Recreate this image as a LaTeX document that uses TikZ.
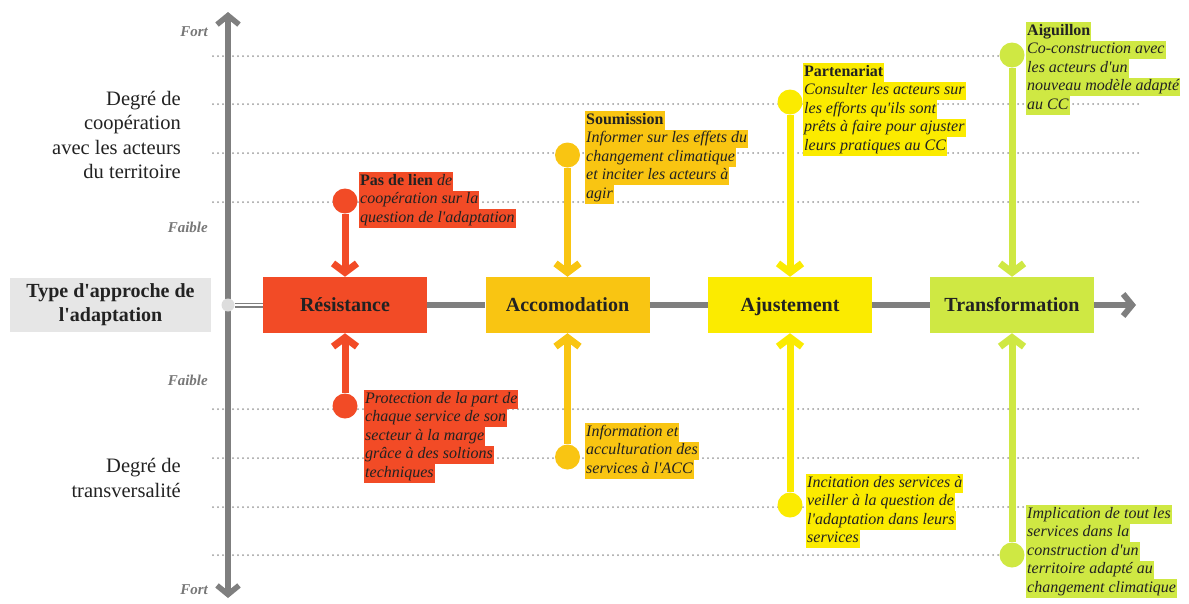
\documentclass[tikz,border=0pt]{standalone}
\usepackage{fontspec}
\setmainfont{Liberation Serif}[Ligatures=TeXOff]
\usetikzlibrary{arrows.meta}
\definecolor{cR}{HTML}{F24B26}
\definecolor{cA}{HTML}{F9C512}
\definecolor{cJ}{HTML}{FBEB00}
\definecolor{cT}{HTML}{CFE843}
\definecolor{axisc}{HTML}{7F7F7F}
\definecolor{dotc}{HTML}{9A9A9A}
\definecolor{ink}{HTML}{222222}
\definecolor{labc}{HTML}{777777}
\definecolor{typebg}{HTML}{E6E6E6}
\definecolor{hubc}{HTML}{DDDDDD}
\setlength\fboxsep{0pt}
\newcommand\hl[2]{\colorbox{#1}{\kern1pt\strut#2\kern1pt}}
\begin{document}
\begin{tikzpicture}[x=1pt,y=-1pt,
 approach/.style={draw=none, fill=#1, minimum width=164pt, minimum height=56pt, inner sep=0pt, text height=17pt, text depth=4pt, font=\fontsize{20}{24}\selectfont\bfseries, text=ink},
 knob/.style={circle, fill=#1, minimum size=25pt, inner sep=0pt},
 conn/.style={draw=#1, line width=7pt, -{Straight Barb[length=9pt,width=24pt]}},
 anno/.style={anchor=north west, inner sep=0pt, align=left, font=\fontsize{16}{18.5}\selectfont\itshape, text=ink},
 dotline/.style={draw=dotc, line width=2pt, line cap=round, dash pattern=on 0pt off 5pt},
 lvl/.style={anchor=east, inner sep=0pt, font=\fontsize{15}{18}\selectfont\bfseries\itshape, text=labc},
 axislab/.style={anchor=east, inner sep=0pt, align=right, font=\fontsize{20.5}{24.5}\selectfont, text=ink},
 axisln/.style={draw=axisc, line width=6pt},
]
\useasboundingbox (0,0) rectangle (1189,603);
% dotted grid
\foreach \yy in {56,104,153,202,409,458,507,555}
  \draw[dotline] (213,\yy) -- (1138,\yy);
% vertical axis
\coordinate (vtop) at (228,12);
\coordinate (vbot) at (228,598);
\draw[draw=axisc, line width=5.5pt, {Straight Barb[length=9pt,width=22pt]}-{Straight Barb[length=9pt,width=22pt]}] (vbot) -- (vtop);
% left labels
\node[lvl] (f1) at (208,32) {Fort};
\node[lvl] (f2) at (208,227) {Faible};
\node[lvl] (f3) at (208,380) {Faible};
\node[lvl] (f4) at (208,590) {Fort};
\node[axislab] (coop) at (181,135) {Degré de\\coopération\\avec les acteurs\\du territoire};
\node[axislab] (trans) at (181,478) {Degré de\\transversalité};
\node[fill=typebg, minimum width=201pt, minimum height=54pt, inner sep=0pt, align=center, font=\fontsize{20}{24}\selectfont\bfseries, text=ink] (type) at (110.5,305) {Type d'approche de\\l'adaptation};
\node[circle, fill=hubc, minimum size=13pt, inner sep=0pt] (hub) at (228,305) {};
% approach boxes
\node[approach=cR] (b1) at (345,305) {Résistance};
\node[approach=cA] (b2) at (567.5,305) {Accomodation};
\node[approach=cJ] (b3) at (790,305) {Ajustement};
\node[approach=cT] (b4) at (1012,305) {Transformation};
\coordinate (hend) at (1136,305);
\draw[draw=axisc, line width=1.8pt, double=white, double distance=1.4pt] (hub) -- (b1);
\draw[axisln] (b1) -- (b2);
\draw[axisln] (b2) -- (b3);
\draw[axisln] (b3) -- (b4);
\draw[axisln, -{Straight Barb[length=9pt,width=22pt]}] (b4) -- (hend);
% knobs
\node[knob=cR] (k1t) at (345,201) {};
\node[knob=cR] (k1b) at (345,406) {};
\node[knob=cA] (k2t) at (567.5,155) {};
\node[knob=cA] (k2b) at (567.5,457) {};
\node[knob=cJ] (k3t) at (790,102) {};
\node[knob=cJ] (k3b) at (790,505) {};
\node[knob=cT] (k4t) at (1012,55) {};
\node[knob=cT] (k4b) at (1012,555) {};
\draw[conn=cR] (k1t) -- (b1.north);
\draw[conn=cR] (k1b) -- (b1.south);
\draw[conn=cA] (k2t) -- (b2.north);
\draw[conn=cA] (k2b) -- (b2.south);
\draw[conn=cJ] (k3t) -- (b3.north);
\draw[conn=cJ] (k3b) -- (b3.south);
\draw[conn=cT] (k4t) -- (b4.north);
\draw[conn=cT] (k4b) -- (b4.south);
% annotations
\node[anno] (t1t) at (359,172) {\hl{cR}{{\upshape\bfseries Pas de lien} de}\\\hl{cR}{coopération sur la}\\\hl{cR}{question de l'adaptation}};
\node[anno] (t1b) at (364,390) {\hl{cR}{Protection de la part de}\\\hl{cR}{chaque service de son}\\\hl{cR}{secteur à la marge}\\\hl{cR}{grâce à des soltions}\\\hl{cR}{techniques}};
\node[anno] (t2t) at (585,111) {\hl{cA}{\upshape\bfseries Soumission}\\\hl{cA}{Informer sur les effets du}\\\hl{cA}{changement climatique}\\\hl{cA}{et inciter les acteurs à}\\\hl{cA}{agir}};
\node[anno] (t2b) at (585,423) {\hl{cA}{Information et}\\\hl{cA}{acculturation des}\\\hl{cA}{services à l'ACC}};
\node[anno] (t3t) at (803,63) {\hl{cJ}{\upshape\bfseries Partenariat}\\\hl{cJ}{Consulter les acteurs sur}\\\hl{cJ}{les efforts qu'ils sont}\\\hl{cJ}{prêts à faire pour ajuster}\\\hl{cJ}{leurs pratiques au CC}};
\node[anno] (t3b) at (806,474) {\hl{cJ}{Incitation des services à}\\\hl{cJ}{veiller à la question de}\\\hl{cJ}{l'adaptation dans leurs}\\\hl{cJ}{services}};
\node[anno] (t4t) at (1026,22) {\hl{cT}{\upshape\bfseries Aiguillon}\\\hl{cT}{Co-construction avec}\\\hl{cT}{les acteurs d'un}\\\hl{cT}{nouveau modèle adapté}\\\hl{cT}{au CC}};
\node[anno] (t4b) at (1026,505) {\hl{cT}{Implication de tout les}\\\hl{cT}{services dans la}\\\hl{cT}{construction d'un}\\\hl{cT}{territoire adapté au}\\\hl{cT}{changement climatique}};
\end{tikzpicture}
\end{document}
